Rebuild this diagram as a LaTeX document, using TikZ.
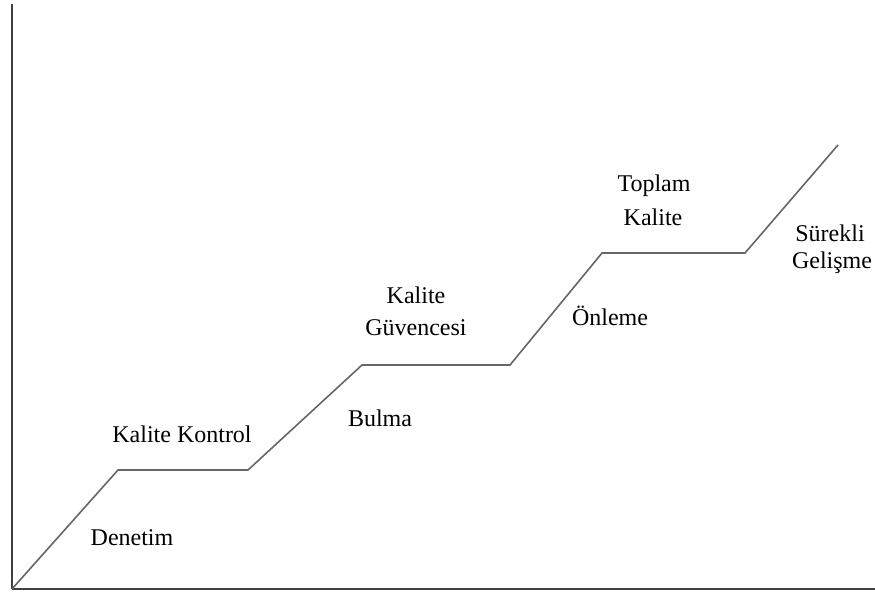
\documentclass[tikz,border=0pt]{standalone}
\usepackage{fontspec}
\setmainfont{Liberation Serif}
\begin{document}
\begin{tikzpicture}[x=1pt,y=-1pt,
  axisline/.style={line width=1.6pt,draw=black!75},
  stairline/.style={line width=1.6pt,draw=black!60,line join=miter},
  lbl/.style={font=\fontsize{24}{30}\selectfont,inner sep=0pt,anchor=base}]
\useasboundingbox (0,0) rectangle (875,594);

% axes
\coordinate (top) at (12,4);
\coordinate (origin) at (12,589);
\coordinate (right) at (875,589);
\draw[axisline] (top) -- (origin);
\draw[axisline,line width=2.2pt] (origin) -- (right);

% staircase corners
\coordinate (s1) at (118,470);
\coordinate (s2) at (248,470);
\coordinate (s3) at (362,365);
\coordinate (s4) at (510,365);
\coordinate (s5) at (602,253);
\coordinate (s6) at (745,253);
\coordinate (s7) at (838,145);
\draw[stairline] (origin) -- (s1) -- (s2) -- (s3) -- (s4) -- (s5) -- (s6) -- (s7);

% step labels
\node[lbl] (kk) at (182,442) {Kalite Kontrol};
\node[lbl] (kg1) at (416,303) {Kalite};
\node[lbl] (kg2) at (416,335) {Güvencesi};
\node[lbl] (tk1) at (654,191) {Toplam};
\node[lbl] (tk2) at (653,225) {Kalite};

% riser labels
\node[lbl] (den) at (132,545) {Denetim};
\node[lbl] (bul) at (380,426) {Bulma};
\node[lbl] (onl) at (610,325) {Önleme};
\node[lbl] (sg1) at (830,241) {Sürekli};
\node[lbl] (sg2) at (832,268) {Gelişme};
\end{tikzpicture}
\end{document}
